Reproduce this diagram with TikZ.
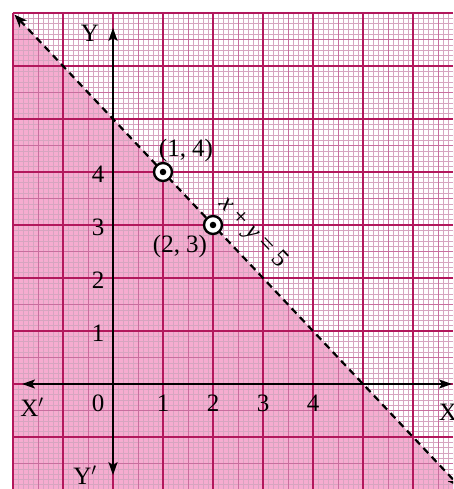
\documentclass[tikz,border=0pt]{standalone}
\usepackage{fontspec}
\setmainfont{Liberation Serif}
\usetikzlibrary{arrows.meta}
\definecolor{gminor}{RGB}{214,165,192}
\definecolor{gmed}{RGB}{200,110,158}
\definecolor{gmajor}{RGB}{178,24,92}
\definecolor{pinkfill}{RGB}{246,172,208}
\tikzset{
  minorline/.style={gminor, line width=0.55pt},
  medline/.style={gmed, line width=0.9pt},
  majorline/.style={gmajor, line width=1.6pt},
  axisline/.style={black, line width=2pt, -{Stealth[length=13pt,width=9pt,inset=3pt]}},
  lbl/.style={font=\fontsize{25}{28}\selectfont, inner sep=1pt},
  ptmark/.style={circle, draw=black, fill=white, line width=2.4pt, minimum size=18pt, inner sep=0pt},
  dotmark/.style={circle, fill=black, minimum size=6.5pt, inner sep=0pt},
}
\begin{document}
\begin{tikzpicture}[x=50pt,y=53pt]
\useasboundingbox (-2.26,-1.981) rectangle (6.8,7.245);
\clip (-2.26,-1.981) rectangle (6.8,7.245);
% shaded half-plane
\fill[pinkfill] (-2,7) -- (7,-2) -- (-2,-2) -- cycle;
% graph paper
\foreach \i in {-20,...,68} {\draw[minorline] (\i/10,-2) -- (\i/10,7);}
\foreach \j in {-20,...,70} {\draw[minorline] (-2,\j/10) -- (6.8,\j/10);}
\foreach \i in {-15,-5,...,65} {\draw[medline] (\i/10,-2) -- (\i/10,7);}
\foreach \j in {-15,-5,...,65} {\draw[medline] (-2,\j/10) -- (6.8,\j/10);}
\foreach \i in {-2,...,6} {\draw[majorline] (\i,-2) -- (\i,7);}
\foreach \j in {-2,...,7} {\draw[majorline] (-2,\j) -- (6.8,\j);}
% axes
\coordinate (O) at (0,0);
\coordinate (xl) at (-1.82,0);
\coordinate (xr) at (6.78,0);
\coordinate (yt) at (0,6.72);
\coordinate (yb) at (0,-1.72);
\draw[axisline] (O) -- (xl);
\draw[axisline] (O) -- (xr);
\draw[axisline] (O) -- (yt);
\draw[axisline] (O) -- (yb);
% boundary line x + y = 5
\coordinate (la) at (-1.97,6.97);
\coordinate (lb) at (6.95,-1.95);
\draw[black, line width=2.2pt, dash pattern=on 7pt off 5pt,
  {Stealth[length=13pt,width=10pt]}-{Stealth[length=13pt,width=10pt]}] (la) -- (lb);
\node[lbl, rotate=-46.7] (eq) at (2.8,2.85) {\textit{x} + \textit{y} = 5};
% axis labels
\node[lbl] (Yl) at (-0.46,6.62) {Y};
\node[lbl] (Ypl) at (-0.56,-1.72) {Y$'$};
\node[lbl] (Xpl) at (-1.62,-0.43) {X$'$};
\node[lbl] (Xl) at (6.7,-0.53) {X};
\node[lbl] (x0) at (-0.3,-0.37) {0};
\foreach \i in {1,...,4} {\node[lbl] (x\i) at (\i,-0.37) {\i};}
\foreach \j in {1,...,4} {\node[lbl] (y\j) at (-0.3,\j-0.05) {\j};}
% points
\node[ptmark] (p14) at (1,4) {};
\node[dotmark] at (p14.center) {};
\node[ptmark] (p23) at (2,3) {};
\node[dotmark] at (p23.center) {};
\node[lbl] (l14) at (1.46,4.4) {(1, 4)};
\node[lbl] (l23) at (1.34,2.6) {(2, 3)};
\end{tikzpicture}
\end{document}
